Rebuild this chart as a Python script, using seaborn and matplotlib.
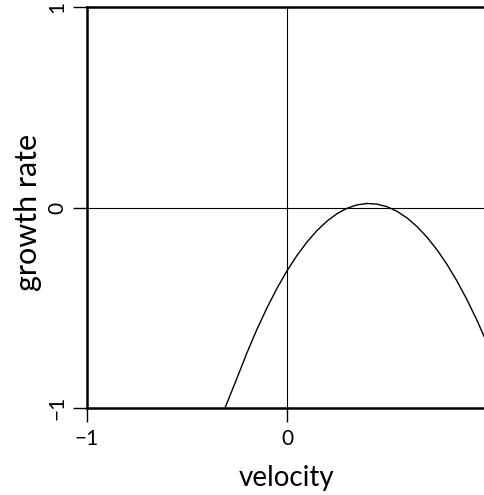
import matplotlib
matplotlib.use("Agg")
import matplotlib.pyplot as plt
import seaborn as sns
import pandas as pd

# Growth rate as a function of velocity
velocity = [-0.31, -0.25, -0.20, -0.15, -0.10, -0.05, 0.00, 0.05, 0.10, 0.15,
            0.20, 0.25, 0.30, 0.35, 0.40, 0.45, 0.50, 0.55, 0.60, 0.65,
            0.70, 0.75, 0.80, 0.85, 0.90, 0.95, 1.00]
growth_rate = [-1.000, -0.851, -0.724, -0.607, -0.500, -0.403, -0.316, -0.239, -0.172, -0.115,
               -0.068, -0.031, -0.004, 0.013, 0.020, 0.017, 0.004, -0.019, -0.052, -0.095,
               -0.148, -0.211, -0.284, -0.367, -0.460, -0.563, -0.676]

x_ticks = [-1, 0]
y_ticks = [-1, 0, 1]
x_tick_labels = ["\u22121", "0"]
y_tick_labels = ["\u22121", "0", "1"]

df = pd.DataFrame({"velocity": velocity, "growth rate": growth_rate})

sns.set_style("white")
plt.rcParams["font.family"] = ["Lato", "DejaVu Sans"]
plt.rcParams["text.color"] = "black"
plt.rcParams["axes.labelcolor"] = "black"
plt.rcParams["xtick.color"] = "black"
plt.rcParams["ytick.color"] = "black"

W, H = 485, 495
fig = plt.figure(figsize=(W / 100, H / 100), dpi=100)
ax = fig.add_axes([87 / W, (H - 408) / H, 400 / W, 401 / H])

ax.axhline(0, color="black", lw=0.8, zorder=1)
ax.axvline(0, color="black", lw=0.8, zorder=1)
sns.lineplot(data=df, x="velocity", y="growth rate", ax=ax, color="black", lw=1.0, zorder=2)

ax.set_xlim(-1, 1)
ax.set_ylim(-1, 1)
ax.set_xticks(x_ticks)
ax.set_xticklabels(x_tick_labels, fontsize=15, color="black")
ax.set_yticks(y_ticks)
ax.set_yticklabels(y_tick_labels, fontsize=15, rotation=90, va="center", color="black")

ax.tick_params(axis="both", direction="out", length=10, width=1.0, color="black",
               bottom=True, left=True, top=False, right=False)
ax.tick_params(axis="y", pad=4)
ax.tick_params(axis="x", pad=5)
for side in ["left", "bottom", "top", "right"]:
    ax.spines[side].set_visible(True)
    ax.spines[side].set_color("black")
    ax.spines[side].set_linewidth(1.8)

ax.set_xlabel("velocity", fontsize=20, color="black", va="center")
ax.set_ylabel("growth rate", fontsize=22, color="black", va="center")
ax.xaxis.set_label_coords(0.5, (408 - 478) / 401)
ax.yaxis.set_label_coords((28 - 87) / 400, (408 - 212) / 401)

fig.savefig("out.png", dpi=100)
